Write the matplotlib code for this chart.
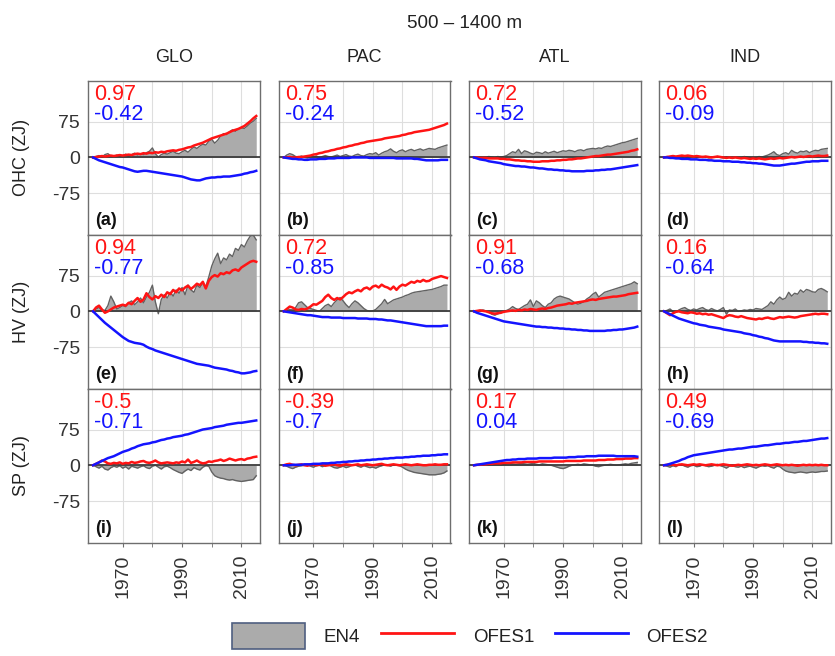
import numpy as np
import matplotlib
matplotlib.use("Agg")
import matplotlib.pyplot as plt
from matplotlib.patches import Patch
from matplotlib.lines import Line2D
from matplotlib.ticker import FixedLocator

plt.rcParams['font.family'] = ['Liberation Sans', 'DejaVu Sans']
plt.rcParams['axes.unicode_minus'] = False

years = np.arange(1960, 2016)

title = "500 \u2013 1400 m"
regions = ["GLO", "PAC", "ATL", "IND"]
quantities = ["OHC (ZJ)", "HV (ZJ)", "SP (ZJ)"]
panel_letters = ["(a)", "(b)", "(c)", "(d)", "(e)", "(f)", "(g)", "(h)", "(i)", "(j)", "(k)", "(l)"]
series_names = ["EN4", "OFES1", "OFES2"]
yticks = [-75, 0, 75]
xticks_major = [1970, 1990, 2010]
xticks_minor = [1980, 2000]

# correlations (OFES1, OFES2) per row (OHC, HV, SP) and column (GLO, PAC, ATL, IND)
corr_ofes1 = [["0.97", "0.75", "0.72", "0.06"],
              ["0.94", "0.72", "0.91", "0.16"],
              ["-0.5", "-0.39", "0.17", "0.49"]]
corr_ofes2 = [["-0.42", "-0.24", "-0.52", "-0.09"],
              ["-0.77", "-0.85", "-0.68", "-0.64"],
              ["-0.71", "-0.7", "0.04", "-0.69"]]

# ---------------- GLO ----------------
en4_glo_ohc = [0, 2, 4, 1, 6, 8, 3, 2, 5, 2,
               4, 7, 3, 6, 9, 5, 8, 6, 10, 13,
               20, 8, 1, 6, 9, 7, 10, 13, 9, 8,
               12, 15, 11, 17, 22, 19, 24, 28, 26, 34,
               38, 30, 36, 45, 50, 48, 54, 58, 55, 60,
               62, 61, 66, 72, 76, 82]
ofes1_glo_ohc = [0, 1, 2, 3, 2, 3, 4, 3, 4, 5,
                 4, 5, 6, 5, 7, 8, 7, 9, 8, 10,
                 9, 11, 10, 12, 11, 13, 14, 15, 14, 16,
                 17, 19, 21, 22, 25, 27, 29, 31, 34, 37,
                 40, 42, 44, 46, 48, 50, 53, 56, 58, 60,
                 63, 66, 71, 76, 82, 87]
ofes2_glo_ohc = [0, -3, -6, -8, -10, -12, -14, -16, -18, -20,
                 -21, -23, -25, -27, -29, -30, -29, -28, -28, -29,
                 -30, -31, -32, -33, -34, -35, -36, -37, -38, -39,
                 -40, -42, -44, -46, -47, -48, -48, -46, -44, -43,
                 -42, -42, -41, -41, -40, -40, -40, -39, -38, -37,
                 -36, -34, -33, -31, -30, -28]

en4_glo_hv = [0, 5, 8, 3, 2, 12, 32, 20, 5, 8,
              12, 10, 18, 22, 14, 20, 28, 18, 30, 40,
              55, 20, -5, 25, 35, 28, 40, 32, 45, 38,
              50, 35, 55, 45, 40, 55, 50, 60, 52, 72,
              95, 110, 122, 100, 112, 108, 120, 115, 132, 128,
              140, 135, 148, 158, 160, 150]
ofes1_glo_hv = [0, 8, 12, 4, -3, 0, 4, 8, 10, 12,
                14, 12, 18, 15, 22, 28, 20, 25, 38, 30,
                25, 32, 28, 35, 30, 40, 36, 45, 40, 48,
                44, 50, 54, 47, 52, 58, 55, 62, 48, 64,
                72, 76, 73, 80, 78, 82, 80, 86, 88, 85,
                92, 96, 100, 104, 106, 104]
ofes2_glo_hv = [0, -6, -12, -18, -24, -29, -34, -39, -44, -49,
                -54, -58, -62, -64, -66, -67, -68, -70, -74, -77,
                -79, -82, -84, -86, -88, -90, -92, -94, -96, -98,
                -100, -102, -104, -106, -108, -110, -111, -112, -113, -114,
                -116, -118, -119, -120, -121, -122, -124, -125, -127, -128,
                -130, -130, -129, -128, -126, -125]

en4_glo_sp = [0, -3, -6, -2, -8, -10, -5, -2, -4, -1,
              -6, -3, -8, -2, -4, -6, -3, -1, -5, -7,
              -2, 0, -4, -8, -3, -2, -5, -9, -12, -15,
              -17, -12, -8, -11, -5, -8, -10, -4, -1, -2,
              -14, -22, -25, -27, -28, -30, -31, -30, -32, -33,
              -34, -33, -32, -31, -30, -22]
ofes1_glo_sp = [0, 3, 6, 10, 8, 4, 3, 5, 4, 6,
                3, 5, 4, 7, 5, 6, 8, 9, 6, 5,
                7, 10, 6, 4, 5, 6, 5, 4, 6, 5,
                8, 6, 12, 5, 7, 10, 6, 4, 5, 8,
                7, 9, 10, 12, 9, 11, 14, 12, 10, 12,
                13, 11, 14, 15, 17, 18]
ofes2_glo_sp = [0, 3, 6, 9, 12, 15, 17, 19, 22, 25,
                28, 30, 32, 35, 37, 40, 42, 44, 45, 46,
                48, 49, 51, 53, 54, 56, 57, 59, 60, 61,
                62, 64, 65, 67, 69, 71, 73, 75, 76, 77,
                78, 80, 81, 82, 83, 85, 86, 87, 88, 89,
                89, 90, 91, 92, 93, 94]

# ---------------- PAC ----------------
en4_pac_ohc = [0, 5, 8, 6, 2, 1, 3, 0, -1, 2,
               1, 3, 0, 2, 4, 2, 1, 3, 5, 2,
               4, 6, 3, 2, 5, 7, 4, 3, 6, 8,
               7, 10, 5, 9, 12, 14, 18, 13, 10, 14,
               16, 12, 15, 17, 14, 16, 18, 15, 17, 19,
               18, 17, 20, 22, 24, 26]
ofes1_pac_ohc = [0, 0, 1, 0, 0, 1, 1, 2, 3, 4,
                 6, 7, 9, 10, 12, 13, 15, 16, 18, 19,
                 21, 22, 24, 25, 27, 28, 30, 31, 33, 34,
                 35, 36, 37, 38, 40, 41, 42, 43, 44, 45,
                 47, 48, 50, 51, 53, 54, 55, 56, 57, 58,
                 60, 62, 64, 66, 68, 71]
ofes2_pac_ohc = [0, -1, -2, -3, -3, -4, -4, -5, -5, -4,
                 -4, -4, -3, -3, -3, -2, -2, -2, -1, -1,
                 -1, -1, -1, 0, 0, 0, 0, 0, 0, -1,
                 -1, -1, -1, -1, -1, -1, -1, -1, -2, -2,
                 -2, -2, -2, -2, -3, -3, -4, -5, -6, -6,
                 -6, -6, -6, -5, -5, -5]

en4_pac_hv = [0, 2, 4, 3, 8, 18, 20, 14, 8, 6,
              4, 2, 0, 6, 12, 15, 10, 18, 24, 29,
              22, 14, 8, 16, 22, 18, 12, 6, 2, 0,
              1, 4, 10, 16, 25, 16, 20, 24, 26, 28,
              30, 33, 35, 38, 40, 41, 42, 43, 44, 45,
              46, 48, 50, 52, 55, 55]
ofes1_pac_hv = [0, 5, 10, 8, 4, 3, 5, 4, 6, 10,
                15, 14, 18, 22, 30, 35, 28, 24, 28, 25,
                30, 36, 40, 38, 42, 45, 42, 48, 50, 46,
                52, 54, 50, 56, 52, 50, 46, 52, 45, 52,
                56, 54, 58, 62, 60, 64, 62, 66, 63, 64,
                68, 70, 72, 74, 72, 70]
ofes2_pac_hv = [0, -1, -2, -3, -4, -5, -6, -7, -8, -8,
                -9, -10, -11, -12, -12, -12, -13, -13, -13, -13,
                -14, -14, -14, -14, -14, -15, -15, -15, -15, -16,
                -16, -16, -17, -17, -18, -19, -19, -20, -21, -22,
                -23, -24, -25, -26, -27, -28, -29, -30, -31, -31,
                -31, -31, -31, -31, -30, -30]

en4_pac_sp = [0, -2, -5, -7, -4, -2, -1, 0, 1, -2,
              -4, -1, 0, -3, -1, 2, -2, -5, -6, -4,
              -2, -5, -3, 0, 1, -2, -4, -1, -3, -5,
              -4, -6, -3, -1, 1, 0, -2, 1, 0, -1,
              -4, -8, -11, -13, -15, -16, -17, -18, -19, -20,
              -20, -20, -19, -18, -16, -12]
ofes1_pac_sp = [0, 2, 3, 1, 0, 1, 2, 0, -1, 1,
                2, 0, 1, 2, -1, 0, 1, 2, 0, -1,
                1, 2, 1, 0, 1, 2, 0, 1, 2, 1,
                0, 1, 2, 3, 1, 0, 1, 2, 1, 0,
                1, 2, 1, 0, 1, 2, 1, 0, 0, 1,
                1, 2, 1, 1, 2, 2]
ofes2_pac_sp = [0, 0, 0, 1, 1, 1, 1, 2, 2, 2,
                3, 3, 3, 4, 4, 4, 5, 5, 6, 6,
                7, 7, 8, 8, 9, 9, 10, 10, 11, 11,
                12, 12, 13, 13, 14, 14, 15, 15, 16, 16,
                16, 17, 17, 18, 18, 19, 19, 20, 20, 20,
                21, 21, 22, 22, 23, 23]

# ---------------- ATL ----------------
en4_atl_ohc = [0, 0, 1, 0, 1, 2, 1, 0, 2, 1,
               2, 4, 8, 12, 10, 17, 8, 14, 12, 9,
               7, 11, 10, 8, 12, 9, 11, 13, 10, 12,
               14, 13, 15, 14, 12, 15, 16, 14, 17, 18,
               19, 18, 20, 19, 22, 24, 23, 25, 27, 29,
               31, 32, 34, 36, 38, 40]
ofes1_atl_ohc = [0, 0, -1, -1, -1, -2, -2, -2, -2, -3,
                 -3, -4, -4, -5, -6, -6, -7, -7, -8, -8,
                 -9, -9, -9, -8, -8, -8, -7, -7, -6, -6,
                 -5, -5, -4, -4, -3, -2, -2, -1, 0, 1,
                 2, 3, 3, 4, 5, 6, 6, 7, 8, 9,
                 10, 11, 12, 14, 15, 17]
ofes2_atl_ohc = [0, -2, -4, -5, -6, -8, -9, -10, -11, -12,
                 -14, -15, -16, -17, -18, -18, -19, -19, -20, -21,
                 -21, -22, -23, -23, -24, -25, -25, -26, -26, -27,
                 -27, -28, -28, -29, -29, -29, -29, -29, -28, -28,
                 -28, -27, -27, -26, -26, -25, -25, -24, -23, -22,
                 -21, -20, -19, -18, -17, -16]

en4_atl_hv = [0, 1, 2, 3, 1, -2, -6, -8, -5, -3,
              0, 2, 5, 10, 6, 4, 8, 12, 15, 24,
              10, 22, 18, 12, 8, 15, 18, 26, 30, 32,
              30, 28, 26, 22, 18, 15, 17, 20, 26, 30,
              36, 40, 30, 35, 40, 42, 44, 46, 48, 50,
              52, 54, 56, 58, 62, 58]
ofes1_atl_hv = [0, 1, 2, 1, 0, -2, -4, -5, -4, -3,
                -1, 0, 1, 2, 1, 3, 2, 4, 3, 5,
                4, 3, 5, 6, 5, 7, 8, 10, 12, 13,
                14, 15, 17, 16, 18, 19, 20, 21, 22, 24,
                25, 24, 26, 27, 28, 29, 30, 31, 31, 32,
                33, 34, 36, 37, 38, 39]
ofes2_atl_hv = [0, -3, -5, -7, -9, -11, -13, -15, -17, -19,
                -21, -22, -23, -24, -25, -26, -27, -28, -29, -30,
                -31, -32, -32, -33, -33, -34, -34, -35, -35, -36,
                -36, -37, -37, -38, -38, -39, -39, -40, -40, -41,
                -41, -41, -41, -41, -41, -40, -40, -39, -39, -38,
                -38, -37, -36, -35, -34, -32]

en4_atl_sp = [0, 1, 0, 1, 2, 1, 2, 3, 2, 1,
              2, 3, 4, 3, 2, 3, 4, 3, 2, 3,
              4, 2, 1, 3, 2, 1, 0, -2, -4, -6,
              -7, -5, -2, 0, 1, 2, 1, 3, 2, 1,
              0, -2, -3, -1, 0, 1, 2, 1, 0, 1,
              2, 3, 2, 4, 5, 6]
ofes1_atl_sp = [0, 1, 1, 2, 2, 3, 3, 4, 4, 4,
                5, 5, 5, 6, 6, 6, 6, 7, 7, 7,
                7, 7, 8, 8, 8, 8, 8, 8, 8, 8,
                8, 9, 9, 9, 9, 9, 9, 10, 10, 10,
                10, 10, 11, 11, 11, 12, 12, 12, 13, 13,
                13, 14, 14, 14, 15, 15]
ofes2_atl_sp = [0, 1, 2, 3, 4, 5, 6, 7, 8, 9,
                10, 11, 11, 12, 12, 13, 13, 13, 14, 14,
                14, 14, 15, 15, 15, 15, 15, 16, 16, 16,
                16, 16, 17, 17, 17, 18, 18, 18, 19, 19,
                19, 19, 20, 20, 20, 20, 20, 20, 19, 19,
                19, 19, 19, 19, 19, 18]

# ---------------- IND ----------------
en4_ind_ohc = [0, 2, 1, 3, 0, 1, 2, -1, 1, 3,
               2, 0, 1, 2, 1, -1, 0, 1, 2, 0,
               -1, 1, 0, -2, 1, 0, -1, 2, 1, 0,
               -1, 0, 2, 1, 3, 5, 8, 12, 6, 4,
               8, 10, 7, 15, 11, 9, 13, 12, 14, 10,
               13, 15, 14, 17, 18, 19]
ofes1_ind_ohc = [0, 1, 2, 3, 2, 3, 4, 3, 4, 3,
                 2, 3, 2, 1, 2, 1, 0, 1, 2, 1,
                 0, -1, 0, -1, 0, -1, -2, -1, -2, -3,
                 -2, -3, -2, -3, -4, -3, -2, -3, -2, -1,
                 -2, -1, 0, 1, 0, 1, 2, 1, 2, 3,
                 2, 3, 4, 3, 3, 4]
ofes2_ind_ohc = [0, 0, -1, -1, -2, -2, -3, -3, -3, -4,
                 -4, -4, -5, -5, -5, -6, -6, -7, -7, -7,
                 -8, -8, -8, -9, -9, -9, -10, -10, -11, -11,
                 -12, -12, -13, -13, -14, -15, -16, -17, -17, -17,
                 -16, -15, -14, -13, -13, -12, -11, -10, -9, -9,
                 -8, -8, -8, -7, -7, -7]

en4_ind_hv = [0, 2, 5, 0, -2, 3, 6, 8, 4, 2,
              5, 3, 6, 8, 4, 2, 6, 3, 1, 4,
              8, -6, 3, 2, 5, 0, 1, 3, 2, 4,
              3, 6, 5, 4, 8, 12, 20, 15, 24, 30,
              25, 28, 40, 32, 38, 36, 45, 40, 46, 44,
              41, 40, 46, 48, 45, 41]
ofes1_ind_hv = [0, -4, -8, -4, -1, 0, -2, -3, -4, -2,
                -3, -5, -4, -6, -5, -7, -6, -8, -10, -12,
                -14, -10, -8, -9, -11, -12, -10, -12, -14, -15,
                -16, -17, -15, -16, -14, -13, -15, -16, -14, -12,
                -13, -12, -11, -12, -13, -12, -10, -9, -8, -7,
                -6, -5, -6, -5, -5, -6]
ofes2_ind_hv = [0, -3, -6, -9, -12, -15, -17, -19, -21, -23,
                -25, -26, -28, -29, -30, -32, -33, -34, -35, -36,
                -38, -39, -40, -41, -42, -43, -44, -46, -47, -48,
                -50, -51, -53, -54, -56, -57, -59, -61, -62, -63,
                -63, -63, -63, -63, -63, -63, -63, -64, -64, -65,
                -65, -66, -66, -67, -67, -68]

en4_ind_sp = [0, -2, -4, -1, -3, 2, 1, -2, -4, -1,
              0, -3, -2, 1, -1, -3, -2, 0, 2, -1,
              -3, -6, -2, -1, -3, -4, -2, -5, -3, -2,
              -4, -6, -3, -1, -2, -1, -4, -6, -2, -3,
              -8, -12, -14, -15, -16, -15, -14, -15, -16, -15,
              -14, -15, -14, -13, -13, -12]
ofes1_ind_sp = [0, 1, 2, 1, 0, 1, 2, 1, 0, 1,
                2, 1, 2, 1, 0, 1, 2, 1, 0, 1,
                2, 1, 0, -1, 0, 1, 0, 1, 2, 1,
                0, 1, 0, 1, 2, 1, 0, 1, 2, 1,
                0, 1, 0, 1, 0, -1, 0, 1, 0, 1,
                0, 1, 0, 1, 0, 0]
ofes2_ind_sp = [0, 1, 3, 5, 7, 9, 12, 14, 17, 19,
                21, 22, 23, 24, 25, 26, 27, 28, 29, 30,
                31, 32, 33, 33, 34, 35, 35, 36, 37, 38,
                39, 39, 40, 41, 42, 42, 43, 44, 45, 45,
                46, 47, 47, 48, 49, 49, 50, 51, 51, 52,
                53, 54, 55, 56, 56, 57]

grid_data = [
    [(en4_glo_ohc, ofes1_glo_ohc, ofes2_glo_ohc), (en4_pac_ohc, ofes1_pac_ohc, ofes2_pac_ohc),
     (en4_atl_ohc, ofes1_atl_ohc, ofes2_atl_ohc), (en4_ind_ohc, ofes1_ind_ohc, ofes2_ind_ohc)],
    [(en4_glo_hv, ofes1_glo_hv, ofes2_glo_hv), (en4_pac_hv, ofes1_pac_hv, ofes2_pac_hv),
     (en4_atl_hv, ofes1_atl_hv, ofes2_atl_hv), (en4_ind_hv, ofes1_ind_hv, ofes2_ind_hv)],
    [(en4_glo_sp, ofes1_glo_sp, ofes2_glo_sp), (en4_pac_sp, ofes1_pac_sp, ofes2_pac_sp),
     (en4_atl_sp, ofes1_atl_sp, ofes2_atl_sp), (en4_ind_sp, ofes1_ind_sp, ofes2_ind_sp)],
]

# ---------------- styling / layout ----------------
W, H = 835, 656
RED = '#ff1414'
BLUE = '#1414ff'
FILL = '#ababab'
EDGE = '#626262'

fig = plt.figure(figsize=(W / 100, H / 100), dpi=100)

col_left = [88.3, 279.0, 469.3, 659.3]
col_w = 171.5
row_top = [80.7, 234.6, 388.5]
row_h = 154.0


def rect(l, t, w, h):
    return [l / W, 1 - (t + h) / H, w / W, h / H]


for r in range(3):
    for c in range(4):
        ax = fig.add_axes(rect(col_left[c], row_top[r], col_w, row_h))
        en4, o1, o2 = grid_data[r][c]
        ax.fill_between(years, en4, 0, color=FILL, lw=0, zorder=2)
        ax.plot(years, en4, color=EDGE, lw=1.0, zorder=3)
        ax.axhline(0, color='#3c3c3c', lw=1.3, zorder=3)
        ax.plot(years, o1, color=RED, lw=1.8, zorder=4)
        ax.plot(years, o2, color=BLUE, lw=1.8, zorder=5)
        ax.set_xlim(1958.4, 2016.2)
        ax.set_ylim(-162, 161)
        ax.xaxis.set_major_locator(FixedLocator(xticks_major))
        ax.xaxis.set_minor_locator(FixedLocator(xticks_minor))
        ax.set_yticks(yticks)
        ax.grid(True, which='both', color='#dedede', lw=0.8, zorder=0)
        ax.set_axisbelow(True)
        for sp in ax.spines.values():
            sp.set_color('#6e6e6e')
            sp.set_linewidth(1.0)
        ax.tick_params(axis='y', length=0, pad=6, labelsize=14, labelcolor='#333333')
        ax.tick_params(axis='x', which='both', direction='out', length=3, color='#6e6e6e',
                       pad=6, labelsize=14, labelcolor='#333333', labelrotation=90)
        if c != 0:
            ax.tick_params(axis='y', labelleft=False)
        if r != 2:
            ax.tick_params(axis='x', labelbottom=False)
        ax.text(0.036, 0.978, corr_ofes1[r][c], color=RED, fontsize=15.5,
                transform=ax.transAxes, ha='left', va='top', zorder=6)
        ax.text(0.036, 0.850, corr_ofes2[r][c], color=BLUE, fontsize=15.5,
                transform=ax.transAxes, ha='left', va='top', zorder=6)
        ax.text(0.04, 0.035, panel_letters[r * 4 + c], color='#111111', fontsize=13,
                fontweight='bold', transform=ax.transAxes, ha='left', va='bottom', zorder=6)

# column titles
for c in range(4):
    fig.text((col_left[c] + col_w / 2) / W, 1 - 58 / H, regions[c], fontsize=13,
             ha='center', va='center', color='#222222')

# row labels
for r in range(3):
    fig.text(22 / W, 1 - (row_top[r] + row_h / 2) / H, quantities[r], fontsize=13,
             rotation=90, ha='center', va='center', color='#222222')

fig.text(465 / W, 1 - 23 / H, title, fontsize=13.5, ha='center', va='center', color='#222222')

handles = [Patch(facecolor=FILL, edgecolor='#4f5f80', lw=1.2),
           Line2D([], [], color=RED, lw=2),
           Line2D([], [], color=BLUE, lw=2)]
fig.legend(handles, series_names, loc='center', bbox_to_anchor=(470 / W, 1 - 636 / H),
           ncol=3, frameon=False, fontsize=13.5, handlelength=3.9, handleheight=1.7,
           handletextpad=1.0, columnspacing=1.1, labelcolor='#222222')

fig.savefig('out.png', dpi=100)
